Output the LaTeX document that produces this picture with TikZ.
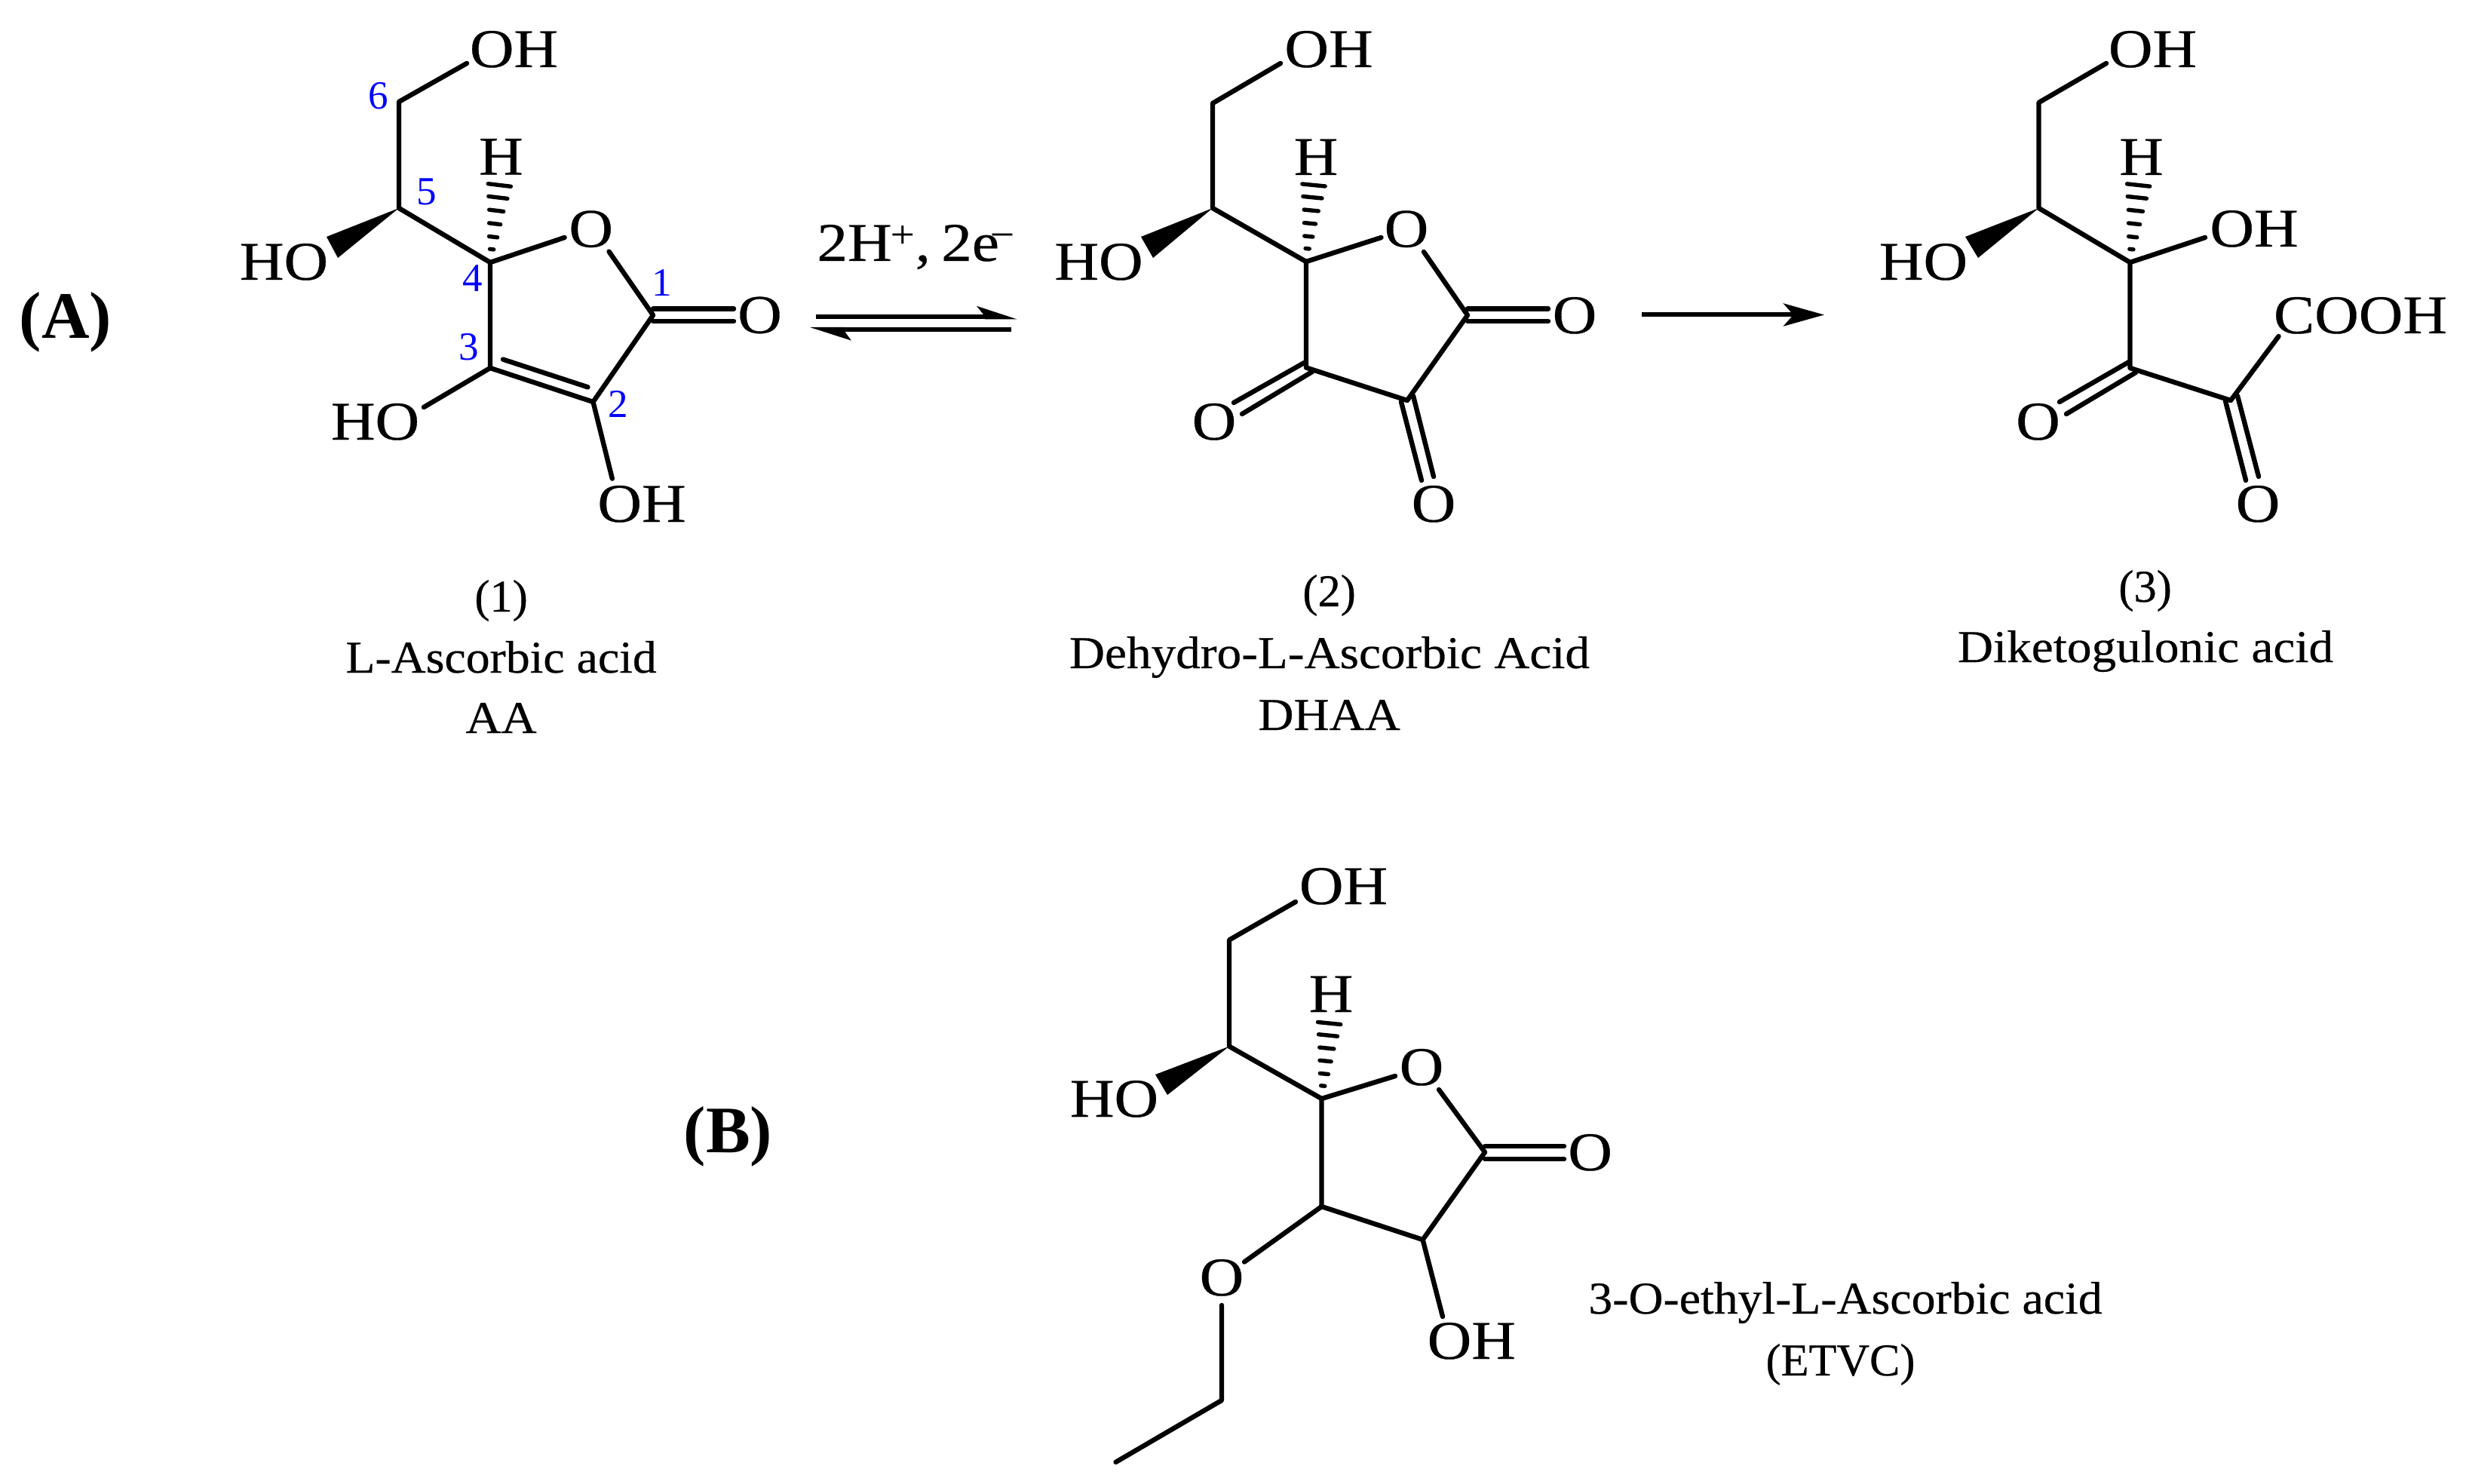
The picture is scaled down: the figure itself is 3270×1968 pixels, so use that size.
\documentclass[tikz,border=0pt]{standalone}
\usepackage{fontspec}
\setmainfont{Liberation Serif}
\newfontfamily\chemfont[FakeStretch=1.12,FakeBold=0.4]{Liberation Serif}
\newfontfamily\capfont[FakeStretch=1.08,FakeBold=0.4]{Liberation Serif}
\newfontfamily\capfontb[FakeStretch=1.055,FakeBold=0.4]{Liberation Serif}
\newfontfamily\capfontc[FakeStretch=1.0,FakeBold=0.4]{Liberation Serif}
\usetikzlibrary{arrows.meta,calc}
\definecolor{numblue}{RGB}{0,0,255}
\newcommand{\hashbond}[2]{%
  \foreach \hf/\hw in {0.17/1.3,0.33/2.8,0.5/3.8,0.67/4.8,0.84/6.3,1/7.6}{%
    \draw[hashstroke] ($(#1)!\hf!(#2)!\hw pt!90:(#1)$) -- ($(#1)!\hf!(#2)!\hw pt!-90:(#1)$);
  }%
}
\tikzset{
  bond/.style={line width=3.2pt,line cap=round,line join=round,black},
  hashstroke/.style={line width=2.7pt,line cap=round,black},
  wedgefill/.style={fill=black,draw=none},
  chem/.style={font=\chemfont\fontsize{36.25pt}{40pt}\selectfont,inner sep=0pt,anchor=base,text=black},
  capt/.style={font=\capfont\fontsize{30.2pt}{34pt}\selectfont,inner sep=0pt,anchor=base,text=black},
  captb/.style={capt,font=\capfontb\fontsize{30.2pt}{34pt}\selectfont},
  captc/.style={capt,font=\capfontc\fontsize{30.2pt}{34pt}\selectfont},
  numlabel/.style={font=\fontsize{26.5pt}{30pt}\selectfont,inner sep=0pt,text=numblue},
  tag/.style={font=\bfseries\fontsize{44pt}{48pt}\selectfont,inner sep=0pt,anchor=base,text=black},
  rxn/.style={line width=3pt,black,-{Stealth[length=27pt,width=15pt,inset=6.5pt]}},
  eqline/.style={line width=3.2pt,black}
}
\begin{document}
\begin{tikzpicture}[x=0.5pt,y=-0.5pt]
\path[use as bounding box] (0,0) rectangle (3270,1968);

% ---------- Molecule 1 ----------
\coordinate (ac6) at (529,135);
\coordinate (ac5) at (529,276);
\coordinate (ac4) at (650,348);
\coordinate (ac3) at (650,488);
\coordinate (ac2) at (786.5,533);
\coordinate (ac1) at (866,418);
\coordinate (aohtop) at (619,84);
\coordinate (ahash) at (662.3,245.5);
\coordinate (awa) at (433,314);
\coordinate (awb) at (448,342);
\coordinate (aoin) at (748.6,315);
\coordinate (aoout) at (807.5,333.6);
\coordinate (ao3) at (562,540);
\coordinate (ao2) at (811.8,634.7);
\coordinate (adba) at (667,476.6);
\coordinate (adbb) at (779.5,513.4);
\coordinate (acoa1) at (866,409.6);
\coordinate (acoa2) at (973,409.6);
\coordinate (acob1) at (866,426);
\coordinate (acob2) at (973,426);
\node[chem] (aOHt) at (681.5,89) {OH};
\node[chem] (aH) at (664.4,231.6) {H};
\node[chem] (aOr) at (783.7,327.4) {O};
\node[chem] (aHO) at (376.5,371) {HO};
\node[chem] (aHO3) at (497.5,583) {HO};
\node[chem] (aOH2) at (851,692) {OH};
\node[chem] (aOd) at (1007.5,441.6) {O};
\draw[bond] (aohtop) -- (ac6) -- (ac5) -- (ac4) -- (ac3) -- (ac2) -- (ac1) -- (aoout);
\draw[bond] (ac4) -- (aoin);
\draw[bond] (ac3) -- (ao3);
\draw[bond] (ac2) -- (ao2);
\draw[bond] (adba) -- (adbb);
\draw[bond] (acoa1) -- (acoa2);
\draw[bond] (acob1) -- (acob2);
\fill[wedgefill] (ac5) -- (awa) -- (awb) -- cycle;
\hashbond{ac4}{ahash}
\node[numlabel] (n6) at (501.7,127.4) {6};
\node[numlabel] (n5) at (566,254) {5};
\node[numlabel] (n4) at (626.5,369) {4};
\node[numlabel] (n3) at (621.6,460) {3};
\node[numlabel] (n2) at (820,535.6) {2};
\node[numlabel] (n1) at (877.7,375) {1};

% ---------- Equilibrium arrows ----------
\coordinate (equs) at (1082,420);
\coordinate (eque) at (1326,420);
\coordinate (equt) at (1348.4,423.3);
\coordinate (equb) at (1295,405.8);
\coordinate (equn) at (1305.6,419);
\coordinate (equl) at (1306,423.3);
\coordinate (eqls) at (1341,437);
\coordinate (eqle) at (1096,437);
\coordinate (eqlt) at (1074,434);
\coordinate (eqlb) at (1128.8,451.6);
\coordinate (eqln) at (1119.7,439);
\coordinate (eqlu) at (1120,434);
\draw[eqline] (equs) -- (eque);
\fill (equt) -- (equb) -- (equn) -- (equl) -- cycle;
\draw[eqline] (eqls) -- (eqle);
\fill (eqlt) -- (eqlb) -- (eqln) -- (eqlu) -- cycle;
\node[chem,anchor=base west] (eqtext) at (1083,346) {2H\kern-1pt\textsuperscript{+},\kern-3pt{} 2e\kern-6pt\textsuperscript{−}};

% ---------- Molecule 2 ----------
\coordinate (bc6) at (1608,137);
\coordinate (bc5) at (1608,276);
\coordinate (bc4) at (1732,347);
\coordinate (bc3) at (1732,487.5);
\coordinate (bc2) at (1866,531);
\coordinate (bc1) at (1946,418);
\coordinate (bohtop) at (1698,84);
\coordinate (bhash) at (1742,245.5);
\coordinate (bwa) at (1513,314);
\coordinate (bwb) at (1529,342);
\coordinate (boin) at (1831.5,315);
\coordinate (boout) at (1888,334);
\coordinate (bd1a) at (1946,409.6);
\coordinate (bd1b) at (2053,409.6);
\coordinate (bd2a) at (1946,426);
\coordinate (bd2b) at (2053,426);
\coordinate (bd3a) at (1636,534);
\coordinate (bd3b) at (1729.5,481);
\coordinate (bd4a) at (1647,549);
\coordinate (bd4b) at (1740,493);
\coordinate (bd5a) at (1858,533);
\coordinate (bd5b) at (1885,637);
\coordinate (bd6a) at (1874,525);
\coordinate (bd6b) at (1901,632);
\node[chem] (bOHt) at (1762,89) {OH};
\node[chem] (bH) at (1745,232) {H};
\node[chem] (bOr) at (1865,327.4) {O};
\node[chem] (bHO) at (1457,371) {HO};
\node[chem] (bOd) at (2088,442) {O};
\node[chem] (bO3) at (1610,583) {O};
\node[chem] (bO2) at (1901,692) {O};
\draw[bond] (bohtop) -- (bc6) -- (bc5) -- (bc4) -- (bc3) -- (bc2) -- (bc1) -- (boout);
\draw[bond] (bc4) -- (boin);
\draw[bond] (bd1a) -- (bd1b);
\draw[bond] (bd2a) -- (bd2b);
\draw[bond] (bd3a) -- (bd3b);
\draw[bond] (bd4a) -- (bd4b);
\draw[bond] (bd5a) -- (bd5b);
\draw[bond] (bd6a) -- (bd6b);
\fill[wedgefill] (bc5) -- (bwa) -- (bwb) -- cycle;
\hashbond{bc4}{bhash}

% ---------- Forward arrow ----------
\coordinate (fws) at (2177,417.5);
\coordinate (fwe) at (2419,417.5);
\draw[rxn] (fws) -- (fwe);

% ---------- Molecule 3 ----------
\coordinate (cc6) at (2703.5,136);
\coordinate (cc5) at (2703.5,276);
\coordinate (cc4) at (2824.5,348);
\coordinate (cc3) at (2824.5,488);
\coordinate (cc2) at (2958,531);
\coordinate (cohtop) at (2793,84);
\coordinate (cohr) at (2924,315);
\coordinate (ccooh) at (3021.5,446);
\coordinate (chash) at (2835.6,245.5);
\coordinate (cwa) at (2606,314);
\coordinate (cwb) at (2623,342);
\coordinate (cd3a) at (2731,533);
\coordinate (cd3b) at (2823,480);
\coordinate (cd4a) at (2740,549);
\coordinate (cd4b) at (2832,494);
\coordinate (cd5a) at (2951,532);
\coordinate (cd5b) at (2978,637);
\coordinate (cd6a) at (2967,525);
\coordinate (cd6b) at (2995,632);
\node[chem] (cOHt) at (2854.5,89) {OH};
\node[chem] (cH) at (2839.5,232) {H};
\node[chem] (cOHr) at (2989,327) {OH};
\node[chem] (cHO) at (2550.5,371) {HO};
\node[chem] (cCOOH) at (3130,442) {COOH};
\node[chem] (cO3) at (2702.5,583) {O};
\node[chem] (cO2) at (2994,692) {O};
\draw[bond] (cohtop) -- (cc6) -- (cc5) -- (cc4) -- (cc3) -- (cc2) -- (ccooh);
\draw[bond] (cc4) -- (cohr);
\draw[bond] (cd3a) -- (cd3b);
\draw[bond] (cd4a) -- (cd4b);
\draw[bond] (cd5a) -- (cd5b);
\draw[bond] (cd6a) -- (cd6b);
\fill[wedgefill] (cc5) -- (cwa) -- (cwb) -- cycle;
\hashbond{cc4}{chash}

% ---------- Molecule 4 ----------
\coordinate (dc6) at (1630,1246.5);
\coordinate (dc5) at (1630,1387.6);
\coordinate (dc4) at (1752.5,1457);
\coordinate (dc3) at (1752.5,1600);
\coordinate (dc2) at (1886.6,1644);
\coordinate (dc1) at (1969,1528);
\coordinate (dohtop) at (1718,1196);
\coordinate (dhash) at (1762.6,1357);
\coordinate (dwa) at (1532,1425);
\coordinate (dwb) at (1548,1452);
\coordinate (doin) at (1850,1427);
\coordinate (doout) at (1908,1445);
\coordinate (dd1a) at (1969,1520);
\coordinate (dd1b) at (2074,1520);
\coordinate (dd2a) at (1969,1537);
\coordinate (dd2b) at (2074,1537);
\coordinate (doea) at (1650,1673.5);
\coordinate (doeb) at (1620,1731);
\coordinate (dch2) at (1620,1857);
\coordinate (dch3) at (1479.5,1939);
\coordinate (dohb) at (1913,1746);
\node[chem] (dOHt) at (1781.5,1199) {OH};
\node[chem] (dH) at (1765,1342) {H};
\node[chem] (dOr) at (1885,1439) {O};
\node[chem] (dHO) at (1477.5,1481) {HO};
\node[chem] (dOd) at (2108.6,1552) {O};
\node[chem] (dOe) at (1620,1718) {O};
\node[chem] (dOH2) at (1951.3,1802) {OH};
\draw[bond] (dohtop) -- (dc6) -- (dc5) -- (dc4) -- (dc3) -- (dc2) -- (dc1) -- (doout);
\draw[bond] (dc4) -- (doin);
\draw[bond] (dc3) -- (doea);
\draw[bond] (doeb) -- (dch2) -- (dch3);
\draw[bond] (dc2) -- (dohb);
\draw[bond] (dd1a) -- (dd1b);
\draw[bond] (dd2a) -- (dd2b);
\fill[wedgefill] (dc5) -- (dwa) -- (dwb) -- cycle;
\hashbond{dc4}{dhash}

% ---------- Captions ----------
\node[captc] (c1a) at (664.6,811) {(1)};
\node[captb] (c1b) at (664.6,892) {L-Ascorbic acid};
\node[capt] (c1c) at (664.6,972) {AA};
\node[captc] (c2a) at (1762.6,804) {(2)};
\node[capt] (c2b) at (1763,886) {Dehydro-L-Ascorbic Acid};
\node[capt] (c2c) at (1762.6,968) {DHAA};
\node[captc] (c3a) at (2844.6,798) {(3)};
\node[capt] (c3b) at (2845,878) {Diketogulonic acid};
\node[captb] (c4a) at (2447,1742) {3-O-ethyl-L-Ascorbic acid};
\node[captc] (c4b) at (2440.5,1824) {(ETVC)};
\node[tag] (tA) at (87,449) {(A)};
\node[tag] (tB) at (965.5,1528) {(B)};
\end{tikzpicture}
\end{document}
